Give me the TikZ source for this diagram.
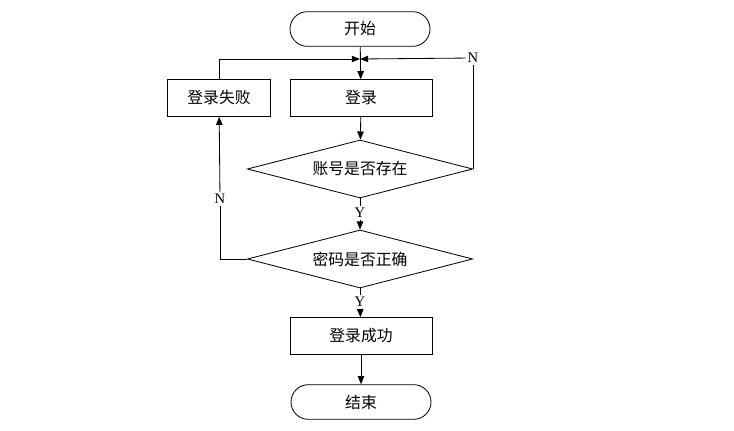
\documentclass[tikz,border=0pt]{standalone}
\usepackage{fontspec}
\setmainfont{Liberation Serif}
\newfontfamily\cjk{Noto Sans CJK SC}
\usetikzlibrary{shapes.geometric,arrows.meta}

\tikzset{
  procbox/.style={draw,rectangle,minimum width=4.26cm,minimum height=1.1cm,inner sep=0pt,font=\cjk\fontsize{13.5}{15}\selectfont},
  termbox/.style={draw,rectangle,rounded corners=0.52cm,minimum width=4.2cm,minimum height=1.04cm,inner sep=0pt,font=\cjk\fontsize{13.5}{15}\selectfont},
  decbox/.style={draw,diamond,aspect=3.9,minimum width=6.76cm,minimum height=1.74cm,inner sep=0pt,font=\cjk\fontsize{13.5}{15}\selectfont},
  yn/.style={inner sep=1.5pt,font=\fontsize{12.5}{14}\selectfont},
  flow/.style={-{Triangle[length=7pt,width=5.5pt]}},
}

\begin{document}
\begin{tikzpicture}[x=0.03cm,y=-0.03cm,line width=0.7pt]
        \useasboundingbox (0,0) rectangle (734,431);

        % nodes
        \node[termbox] (start) at (360,29) {开始};
        \coordinate (m) at (360,59);
        \node[procbox] (login) at (361,98) {登录};
        \node[procbox,minimum width=3.09cm] (fail) at (219,98) {登录失败};
        \node[decbox] (exist) at (360,169) {账号是否存在};
        \node[decbox] (pwd) at (360,259) {密码是否正确};
        \node[procbox] (ok) at (361,336) {登录成功};
        \node[termbox] (stop) at (361,402) {结束};

        % labels
        \node[yn] (n1) at (473,58) {N};
        \node[yn] (y1) at (360,213) {Y};
        \node[yn] (n2) at (220,199) {N};
        \node[yn] (y2) at (360,302) {Y};

        % main path
        \draw[flow] (start) -- (login);
        \draw[flow] (login) -- (exist);
        \draw (exist) -- (y1);
        \draw[flow] (y1) -- (pwd);
        \draw (pwd) -- (y2);
        \draw[flow] (y2) -- (ok);
        \draw[flow] (ok) -- (stop);

        % loops back
        \draw (exist.east) -- (exist.east |- n1.south);
        \draw[flow] (n1) -- (m);
        \draw[flow] (fail) |- (m);
        \draw (pwd.west) -| (n2.south);
        \draw[flow] (n2) -- (fail);
    \end{tikzpicture}
\end{document}
